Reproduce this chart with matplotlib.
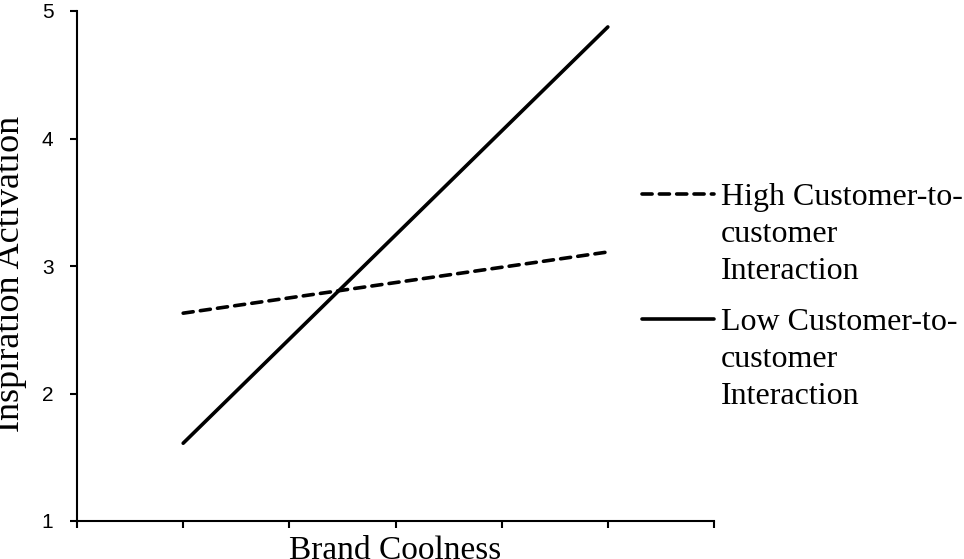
import matplotlib
matplotlib.use("Agg")
import matplotlib.pyplot as plt

# Data
x_positions = [1, 5]
high_c2c = [2.63, 3.11]
low_c2c = [1.61, 4.875]
series_labels = ["High Customer-to-\ncustomer\nInteraction",
                 "Low Customer-to-\ncustomer\nInteraction"]
y_ticks = [1, 2, 3, 4, 5]
x_ticks = [0, 1, 2, 3, 4, 5, 6]
x_label = "Brand Coolness"
y_label = "Inspiration Activation"

fig = plt.figure(figsize=(9.64, 5.59), dpi=100)
ax = fig.add_axes([77/964, (559-521)/559, (714-77)/964, (521-11)/559])

ax.plot(x_positions, high_c2c, color="black", lw=2.6,
        linestyle=(0, (2.8, 2.0)), dash_capstyle="round",
        label=series_labels[0])
ax.plot(x_positions, low_c2c, color="black", lw=2.6,
        solid_capstyle="round", label=series_labels[1])

ax.set_xlim(0, 6)
ax.set_ylim(1, 5)
ax.set_yticks(y_ticks)
ax.set_xticks(x_ticks)
ax.set_xticklabels([])
for s in ["top", "right"]:
    ax.spines[s].set_visible(False)
for s in ["left", "bottom"]:
    ax.spines[s].set_linewidth(1.5)
ax.tick_params(axis="both", direction="out", length=5, width=1.5,
               color="black")
ax.tick_params(axis="y", pad=12, labelsize=15)
for lbl in ax.get_yticklabels():
    lbl.set_fontfamily("Liberation Sans")

ax.set_xlabel(x_label, fontfamily="Liberation Serif", fontsize=24,
              labelpad=2)
ax.set_ylabel(y_label, fontfamily="Liberation Serif", fontsize=26)
ax.yaxis.set_label_coords((27 - 77) / 637, (521 - 273.5) / 510)

leg = ax.legend(loc="upper left", bbox_to_anchor=(642/964, 1 - 183/559),
                bbox_transform=fig.transFigure, frameon=False,
                prop={"family": "Liberation Serif", "size": 23},
                handlelength=2.25, handletextpad=0.22, labelspacing=0.7,
                borderpad=0, borderaxespad=0)
for t in leg.get_texts():
    t.set_linespacing(1.36)
for col in leg._legend_handle_box.get_children():
    for item in col.get_children():
        item.align = "top"

fig.savefig("out.png", dpi=100)
